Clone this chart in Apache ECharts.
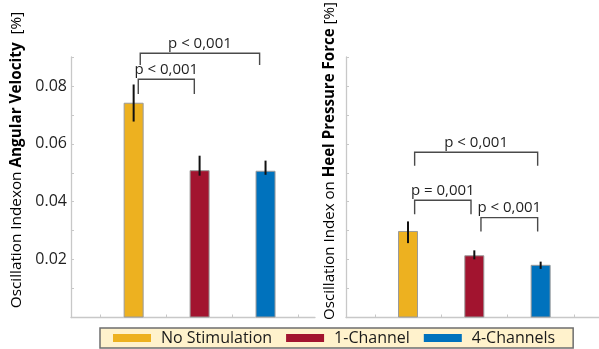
<!DOCTYPE html>
<html>
<head>
<meta charset="utf-8">
<script src="https://cdn.jsdelivr.net/npm/echarts@6/dist/echarts.min.js"></script>
<style>html,body{margin:0;padding:0;background:#fff}#c{width:599px;height:349px}</style>
</head>
<body>
<div id="c"></div>
<script>
// ---- data ----
var categories = ['No Stimulation', '1-Channel', '4-Channels'];
var positions = [1, 2, 3];
var colors = ['#EDB120', '#A2142F', '#0072BD'];
// Oscillation index on angular velocity
var angVel = [0.0742, 0.0509, 0.0507];
var angVelLow = [0.0677, 0.0490, 0.0493];
var angVelHigh = [0.0805, 0.0559, 0.0542];
// Oscillation index on heel pressure force
var heel = [0.0299, 0.0215, 0.0182];
var heelLow = [0.0257, 0.0201, 0.0168];
var heelHigh = [0.0332, 0.0232, 0.0193];
// significance brackets: [from, to, line level, leg end, label]
var bracketsAV = [
  [1.10, 2.91, 0.0913, 0.0872, 'p < 0,001'],
  [1.07, 1.92, 0.0823, 0.0772, 'p < 0,001']
];
var bracketsHeel = [
  [1.10, 2.955, 0.0571, 0.0524, 'p < 0,001'],
  [1.10, 1.95, 0.0405, 0.0357, 'p = 0,001'],
  [2.10, 2.955, 0.0345, 0.0297, 'p < 0,001']
];
var yTicks = [0.02, 0.04, 0.06, 0.08];

var FONT = 'Open Sans';
var axisGray = '#c8c8c8';

function errRender(params, api) {
  var x = api.value(0);
  var p1 = api.coord([x, api.value(1)]);
  var p2 = api.coord([x, api.value(2)]);
  return {type: 'line', shape: {x1: p1[0], y1: p1[1], x2: p2[0], y2: p2[1]},
          style: {stroke: '#111', lineWidth: 2}};
}
function bracketRender(params, api) {
  var x1 = api.value(0), x2 = api.value(1), yt = api.value(2), yl = api.value(3);
  var a = api.coord([x1, yl]), b = api.coord([x1, yt]), c = api.coord([x2, yt]), d = api.coord([x2, yl]);
  return {type: 'group', children: [
    {type: 'polyline', shape: {points: [a, b, c, d]}, style: {stroke: '#4a4a4a', lineWidth: 1.4, fill: null}},
    {type: 'text', x: (b[0] + c[0]) / 2, y: b[1] - 2,
     style: {text: api.value(4), font: '15px "' + FONT + '"', fill: '#1f1f1f', align: 'center', verticalAlign: 'bottom'}}
  ]};
}

function xAxisCfg(idx, min, max) {
  return {type: 'value', gridIndex: idx, min: min, max: max,
    axisLine: {lineStyle: {color: axisGray, width: 1.3}},
    axisTick: {inside: true, length: 3, lineStyle: {color: axisGray}, customValues: [0.5, 1.5, 2.5, 3.5]},
    axisLabel: {show: false}, splitLine: {show: false}};
}
function yAxisCfg(idx, showLabels) {
  return {type: 'value', gridIndex: idx, min: 0, max: 0.09, interval: 0.01,
    axisLine: {show: true, lineStyle: {color: axisGray, width: 1.3}},
    axisTick: {show: true, inside: true, length: 3, lineStyle: {color: axisGray}},
    axisLabel: {show: showLabels, margin: 4, fontFamily: FONT, fontSize: 16, color: '#1f1f1f',
      customValues: yTicks, formatter: function (v) { return v.toFixed(2); }},
    splitLine: {show: false}};
}

var series = [];
for (var i = 0; i < categories.length; i++) {
  series.push({type: 'bar', name: categories[i], xAxisIndex: 0, yAxisIndex: 0,
    barWidth: 20, barGap: '-100%',
    itemStyle: {color: colors[i], borderColor: '#9a9a9a', borderWidth: 1},
    data: [[positions[i], angVel[i]]]});
  series.push({type: 'bar', name: categories[i], xAxisIndex: 1, yAxisIndex: 1,
    barWidth: 20, barGap: '-100%',
    itemStyle: {color: colors[i], borderColor: '#9a9a9a', borderWidth: 1},
    data: [[positions[i], heel[i]]]});
}
series.push({type: 'custom', xAxisIndex: 0, yAxisIndex: 0, renderItem: errRender, z: 5,
  data: positions.map(function (p, i) { return [p, angVelLow[i], angVelHigh[i]]; })});
series.push({type: 'custom', xAxisIndex: 1, yAxisIndex: 1, renderItem: errRender, z: 5,
  data: positions.map(function (p, i) { return [p, heelLow[i], heelHigh[i]]; })});
series.push({type: 'custom', xAxisIndex: 0, yAxisIndex: 0, renderItem: bracketRender, clip: false, z: 6,
  data: bracketsAV});
series.push({type: 'custom', xAxisIndex: 1, yAxisIndex: 1, renderItem: bracketRender, clip: false, z: 6,
  data: bracketsHeel});

var chart = echarts.init(document.getElementById('c'), null, {renderer: 'canvas'});
chart.setOption({
  animation: false,
  backgroundColor: '#fff',
  grid: [
    {left: 71, top: 57, width: 244, height: 260.5},
    {left: 346, top: 57, width: 253, height: 260.5}
  ],
  xAxis: [xAxisCfg(0, 0.05, 3.75), xAxisCfg(1, 0.065, 3.88)],
  yAxis: [yAxisCfg(0, true), yAxisCfg(1, false)],
  legend: {
    data: categories, left: 100, top: 328, orient: 'horizontal',
    padding: [2, 18, 2, 13], itemGap: 14, itemWidth: 38, itemHeight: 8,
    icon: 'rect', itemStyle: {borderWidth: 0},
    backgroundColor: '#FFF2CC', borderColor: '#6e6e6e', borderWidth: 1.5, borderRadius: 0,
    textStyle: {fontFamily: FONT, fontSize: 16, color: '#1a1a1a', padding: [0, 0, 0, 5]}
  },
  graphic: [
    {type: 'text', x: 17, y: 160, rotation: Math.PI / 2,
     style: {text: '{n|Oscillation Indexon }{b|Angular Velocity}{n|  [%]}', align: 'center', verticalAlign: 'middle',
       rich: {n: {fontFamily: FONT, fontSize: 15.3, color: '#1a1a1a'},
              b: {fontFamily: FONT, fontSize: 15.3, fontWeight: 'bold', color: '#1a1a1a'}}}},
    {type: 'text', x: 330, y: 161, rotation: Math.PI / 2,
     style: {text: '{n|Oscillation Index on }{b|Heel Pressure Force}{n| [%]}', align: 'center', verticalAlign: 'middle',
       rich: {n: {fontFamily: FONT, fontSize: 15.1, color: '#1a1a1a'},
              b: {fontFamily: FONT, fontSize: 15.1, fontWeight: 'bold', color: '#1a1a1a'}}}}
  ],
  series: series
});
</script>
</body>
</html>
